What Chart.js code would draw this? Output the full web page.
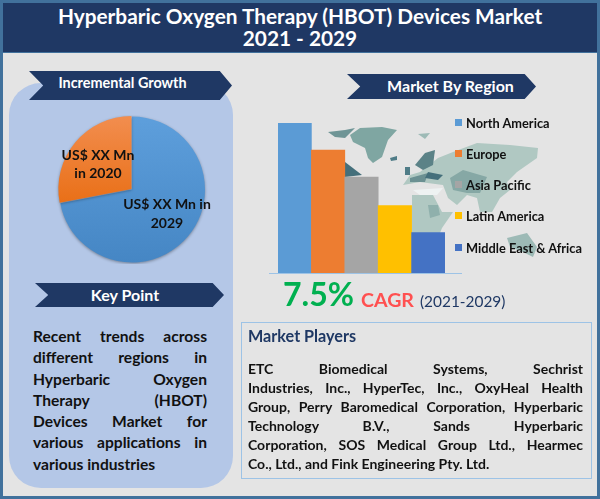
<!DOCTYPE html>
<html>
<head>
<meta charset="utf-8">
<title>HBOT Devices Market</title>
<script src="https://cdn.jsdelivr.net/npm/chart.js@4"></script>
<style>
  html, body { margin: 0; padding: 0; }
  body { width: 600px; height: 499px; overflow: hidden; font-family: Lato, "Open Sans", sans-serif; font-weight: 700; color: #111; }
  #page { position: relative; width: 600px; height: 499px; background: #e4e4e4; overflow: hidden; }
  #page > * { position: absolute; }
  .frame { left: 0; top: 0; width: 594px; height: 493px; border: 3px solid #41719c; }
  .header { left: 3px; top: 3px; width: 594px; height: 49px; background: #1f3864; border-bottom: 1px solid #41719c; }
  .title { left: 0; top: 5px; width: 600px; text-align: center; color: #fff; font-size: 20.8px; line-height: 22px; }
  .panel { left: 9px; top: 83px; width: 224px; height: 405px; background: #b4c7e7; border-radius: 32px; }
  .ribbon { background: #1f3864; color: #fff; text-align: center; clip-path: polygon(0 0, 94% 0, 100% 50%, 94% 100%, 0 100%, 7% 50%); }
  canvas { display: block; }
  .pielabel { text-align: center; font-size: 14px; line-height: 18px; width: 110px; }
  .just { text-align: justify; text-align-last: justify; white-space: nowrap; }
  .last { text-align-last: left; }
  .key div { font-size: 15.6px; line-height: 21.3px; }
  .players div { font-size: 14px; line-height: 18.9px; }
  .legend { left: 455px; top: 0; font-size: 12.8px; }
  .legend span { position: absolute; white-space: nowrap; }
  .legend i { position: absolute; width: 7px; height: 7px; }
  .box { left: 241px; top: 322px; width: 349px; height: 155px; border: 1px solid #9dc3e6; }
</style>
</head>
<body>
<div id="page">
  <div class="frame"></div>
  <div class="header"></div>
  <div class="title">Hyperbaric Oxygen Therapy (HBOT) Devices Market<br>2021 - 2029</div>

  <div class="panel"></div>
  <div class="ribbon" style="left:29px;top:71px;width:203px;height:29px;line-height:24px;font-size:14.4px;text-indent:-16px">Incremental Growth</div>
  <div style="left:52px;top:115px;width:160px;height:149px"><canvas id="pie"></canvas></div>
  <div class="pielabel" style="left:43px;top:146px">US$ XX Mn<br>in 2020</div>
  <div class="pielabel" style="left:112px;top:194px;width:110px;line-height:19px">US$ XX Mn in<br>2029</div>

  <div class="ribbon" style="left:35px;top:283px;width:189px;height:24px;line-height:24px;font-size:16px;text-indent:-9px">Key Point</div>
  <div class="key" id="keyText" style="left:33px;top:326px;width:174px"></div>

  <svg style="left:0;top:0" width="600" height="499">
    <g fill="#b0c8c2">
      <path d="M438 158 L453 152 L477 143 L510 145 L538 148 L537 158 L517 172 L507 182 L510 190 L500 198 L492 212 L480 212 L477 198 L467 195 L457 205 L448 198 L443 185 L420 182 L403 185 L410 175 L420 172 Z"/>
      <path d="M412 195 L433 195 L442 212 L453 212 L442 228 L440 233 L412 233 Z"/>
    </g>
    <path d="M507 238 L527 233 L537 247 L533 257 L523 252 L510 247 Z" fill="#9dbab6"/>
    <path d="M428 205 L438 205 L440 215 L430 218 Z" fill="#8fb0ac"/>
    <path d="M450 178 L463 170 L487 177 L480 193 L467 193 L453 190 Z" fill="#86a8a5"/>
    <path d="M350 135 L360 128 L382 127 L397 130 L388 140 L382 157 L373 163 L368 158 L365 148 L353 142 Z" fill="#7fa6a2"/>
    <path d="M328 132 L345 130 L355 128 L345 138 L335 137 Z" fill="#6f9596"/>
    <path d="M418 134 L430 133 L425 139 Z" fill="#9dbab6"/>
    <path d="M390 158 L397 156 L397 160 L391 161 Z" fill="#4f7c87"/>
    <path d="M345 162 L362 175 L345 177 Z" fill="#446f7b"/>
    <path d="M415 165 L425 153 L435 150 L433 165 L423 170 Z" fill="#5b8287"/>
    <path d="M405 167 L410 167 L410 175 L405 175 Z" fill="#4f7c87"/>
    <path d="M410 178 L428 173 L425 182 L410 182 Z" fill="#6b9092"/>
    <path d="M428 172 L443 175 L438 180 L425 178 Z" fill="#446f7b"/>
    <path d="M413 190 L443 188 L437 195 L420 195 Z" fill="#eef2f2"/>
  </svg>

  <div style="left:269px;top:113px;width:193px;height:162px"><canvas id="bars"></canvas></div>
  <div class="ribbon" style="left:347px;top:74px;width:189px;height:25px;line-height:24px;font-size:16px;text-indent:18px">Market By Region</div>
  <div class="legend" id="legend"></div>

  <div style="left:283px;top:273px;color:#00b050;font-size:32px;line-height:42px">7.5%</div>
  <div style="left:361px;top:287px;color:#ff5050;font-size:19.6px;line-height:26px">CAGR</div>
  <div style="left:420px;top:289px;color:#1f3864;font-size:15.4px;line-height:24px;font-weight:400">(2021-2029)</div>

  <div class="box"></div>
  <div style="left:248px;top:326px;color:#1f3864;font-size:16.2px;line-height:20px">Market Players</div>
  <div class="players" id="playersText" style="left:248px;top:360px;width:335px"></div>
</div>

<script>
const pieLabels = ['2029', '2020'];
const pieValues = [72, 28];

const regions = ['North America', 'Europe', 'Asia Pacific', 'Latin America', 'Middle East & Africa'];
const regionValues = [100, 82, 64, 45, 27];
const regionColors = ['#5b9bd5', '#ed7d31', '#a5a5a5', '#ffc000', '#4472c4'];
const legendTops = [122.5, 154, 185, 216, 247.5];

const keyLines = ['Recent trends across', 'different regions in', 'Hyperbaric Oxygen', 'Therapy (HBOT)', 'Devices Market for', 'various applications in', 'various industries'];
const playerLines = ['ETC Biomedical Systems, Sechrist', 'Industries, Inc., HyperTec, Inc., OxyHeal Health', 'Group, Perry Baromedical Corporation, Hyperbaric', 'Technology B.V., Sands Hyperbaric', 'Corporation, SOS Medical Group Ltd., Hearmec', 'Co., Ltd., and Fink Engineering Pty. Ltd.'];

function fillLines(id, lines) {
  const el = document.getElementById(id);
  lines.forEach(function(line, i) {
    const d = document.createElement('div');
    d.className = i == lines.length - 1 ? 'just last' : 'just';
    d.textContent = line;
    el.appendChild(d);
  });
}
fillLines('keyText', keyLines);
fillLines('playersText', playerLines);

const legendEl = document.getElementById('legend');
regions.forEach(function(r, i) {
  const box = document.createElement('i');
  box.style.cssText = 'left:0;top:' + (legendTops[i] - 4) + 'px;background:' + regionColors[i];
  const txt = document.createElement('span');
  txt.style.cssText = 'left:11px;top:' + (legendTops[i] - 8) + 'px;line-height:16px';
  txt.textContent = r;
  legendEl.appendChild(box);
  legendEl.appendChild(txt);
});

Chart.defaults.animation = false;

const pieCtx = document.getElementById('pie').getContext('2d');
const blueFill = pieCtx.createLinearGradient(0, 0, 0, 149);
blueFill.addColorStop(0, '#5e9fdc');
blueFill.addColorStop(1, '#4586c4');
const orangeFill = pieCtx.createLinearGradient(0, 0, 0, 90);
orangeFill.addColorStop(0, '#f28e50');
orangeFill.addColorStop(1, '#e96f16');

// soft edge under the slices
const pieShadow = {
  id: 'pieShadow',
  beforeDatasetsDraw(chart) {
    chart.ctx.save();
    chart.ctx.shadowColor = 'rgba(0,0,0,0.35)';
    chart.ctx.shadowBlur = 3;
    chart.ctx.shadowOffsetY = 1;
  },
  afterDatasetsDraw(chart) {
    chart.ctx.restore();
  }
};

new Chart(pieCtx, {
  type: 'pie',
  data: {
    labels: pieLabels,
    datasets: [{
      data: pieValues,
      backgroundColor: [blueFill, orangeFill],
      borderWidth: 0,
      offset: [0, 3]
    }]
  },
  options: {
    responsive: true,
    maintainAspectRatio: false,
    plugins: { legend: { display: false }, tooltip: { enabled: false } }
  },
  plugins: [pieShadow]
});

// axis line runs past the bars on both sides
const baseLine = {
  id: 'baseLine',
  afterDraw(chart) {
    const y = chart.scales.y.getPixelForValue(0);
    chart.ctx.save();
    chart.ctx.strokeStyle = '#9dc3e6';
    chart.ctx.lineWidth = 1;
    chart.ctx.beginPath();
    chart.ctx.moveTo(0, y + 0.5);
    chart.ctx.lineTo(chart.width, y + 0.5);
    chart.ctx.stroke();
    chart.ctx.restore();
  }
};

new Chart(document.getElementById('bars'), {
  type: 'bar',
  data: {
    labels: regions,
    datasets: [{
      data: regionValues,
      backgroundColor: regionColors,
      borderWidth: 0,
      barPercentage: 1,
      categoryPercentage: 1
    }]
  },
  options: {
    responsive: true,
    maintainAspectRatio: false,
    layout: { padding: { left: 9, right: 17, top: 10, bottom: 2 } },
    scales: {
      x: { display: false },
      y: { display: false, min: 0, max: 100 }
    },
    plugins: { legend: { display: false }, tooltip: { enabled: false } }
  },
  plugins: [baseLine]
});
</script>
</body>
</html>
